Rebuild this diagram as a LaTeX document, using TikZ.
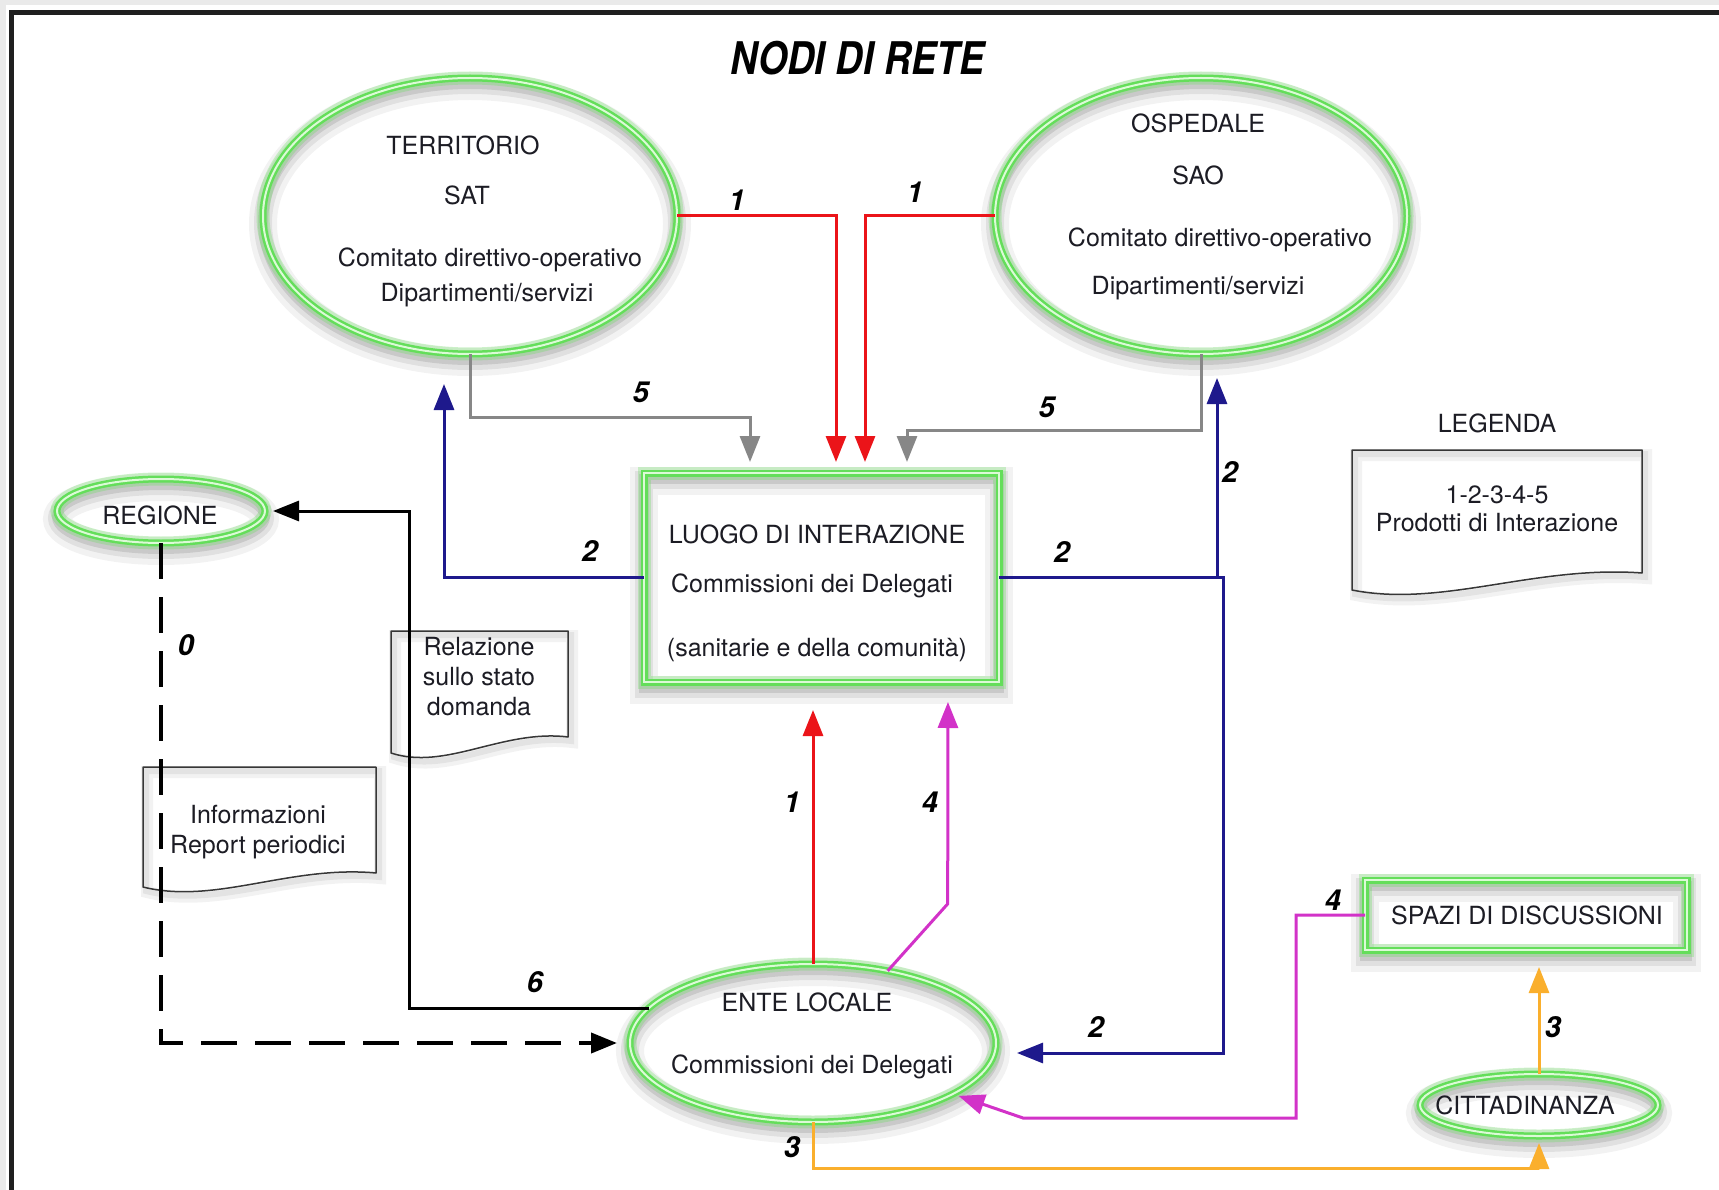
\documentclass[tikz,border=0pt]{standalone}
\usepackage{fontspec}
\setmainfont{TeX Gyre Heros}
\usetikzlibrary{arrows.meta,calc,shapes.geometric}

\definecolor{gline}{RGB}{100,222,90}
\definecolor{gpale}{RGB}{220,250,215}
\definecolor{cred}{RGB}{235,20,25}
\definecolor{cnavy}{RGB}{30,25,140}
\definecolor{cgray}{RGB}{135,135,135}
\definecolor{cmag}{RGB}{210,50,200}
\definecolor{corange}{RGB}{250,175,45}
\definecolor{ink}{RGB}{28,28,36}
\definecolor{docedge}{RGB}{55,55,55}
\definecolor{bandgray}{RGB}{234,234,234}

% document symbol: x0, top, x1, bottom-left, bottom-right
\newcommand\docoutline[5]{%
  \draw[docline] (#1,#4) -- (#1,#2) -- (#3,#2) -- (#3,#5)
    .. controls ({#1+0.63*(#3-#1)},{#5-8}) and ({#1+0.31*(#3-#1)},{#4+18}) .. (#1,#4) -- cycle;}

\begin{document}
\begin{tikzpicture}[x=1pt,y=-1pt,
  every node/.style={font=\fontsize{25}{30}\selectfont, text=ink, inner sep=0pt, outer sep=0pt},
  num/.style={font=\fontsize{29}{30}\selectfont\bfseries\itshape, text=black},
  greenring/.style={draw=gline, line width=7pt,
    preaction={draw=black, draw opacity=0.05, line width=28pt, transform canvas={yshift=-8pt}},
    preaction={draw=black, draw opacity=0.07, line width=18pt, transform canvas={yshift=-7pt}},
    preaction={draw=black, draw opacity=0.10, line width=10pt, transform canvas={yshift=-6pt}},
    preaction={draw=gline, draw opacity=0.3, line width=13pt},
    postaction={draw=gpale, line width=2pt}},
  oval/.style={ellipse, greenring},
  greenbox/.style={rectangle, greenring},
  conn/.style={line width=3pt, -{Triangle[width=20pt,length=26pt]}},
  docline/.style={draw=docedge, line width=1.5pt, line join=round,
    preaction={draw=black, draw opacity=0.05, line width=12pt, transform canvas={shift={(4pt,-5pt)}}},
    preaction={draw=black, draw opacity=0.06, line width=6pt, transform canvas={shift={(3pt,-4pt)}}}},
]
\useasboundingbox (0,0) rectangle (1719,1190);

% page frame
\fill[bandgray] (0,0) rectangle (1719,1190);
\fill[white] (6,5) rectangle (1719,1190);
\draw[line width=4.5pt, black!88, line join=miter] (11.5,1190) -- (11.5,12.5) -- (1719,12.5);

% title
\node[font=\fontsize{45}{45}\selectfont\bfseries\itshape, text=black] (title) at (858,58)
  {\scalebox{0.84}[1]{NODI DI RETE}};

% documents
\docoutline{391}{631}{568}{753}{737}
\node[align=center] (rel) at (479,677) {Relazione\\sullo stato\\domanda};
\docoutline{143}{767}{376}{887}{873}
\node[align=center] (info) at (258,832) {Informazioni\\Report periodici};
\node (legend) at (1497,423) {LEGENDA};
\docoutline{1352}{450}{1642}{590}{573}
\node[align=center, font=\fontsize{25}{28}\selectfont] (legtext) at (1497,509) {1-2-3-4-5\\Prodotti di Interazione};

% network nodes
\node[oval, minimum width=414, minimum height=276] (terr) at (470,216) {};
\node (terrA) at (463,145) {TERRITORIO};
\node (terrB) at (467,195) {SAT};
\node (terrC) at (490,260) {Comitato direttivo-operativo};
\node (terrD) at (487,295) {Dipartimenti/servizi};

\node[oval, minimum width=412, minimum height=276] (osp) at (1201,216) {};
\node (ospA) at (1198,123) {OSPEDALE};
\node (ospB) at (1198,175) {SAO};
\node (ospC) at (1220,240) {Comitato direttivo-operativo};
\node (ospD) at (1198,288) {Dipartimenti/servizi};

\node[greenbox, minimum width=355, minimum height=209] (luogo) at (821.5,577.5) {};
\node (luogoA) at (817,534) {LUOGO DI INTERAZIONE};
\node (luogoB) at (812,586) {Commissioni dei Delegati};
\node (luogoC) at (817,650) {(sanitarie e della comunità)};

\node[oval, minimum width=208, minimum height=64] (reg) at (161,511) {};
\node (regT) at (160,515) {REGIONE};

\node[oval, minimum width=366, minimum height=158] (ente) at (813,1043) {};
\node (enteA) at (807,1002) {ENTE LOCALE};
\node (enteB) at (812,1067) {Commissioni dei Delegati};

\node[greenbox, minimum width=322, minimum height=70] (spazi) at (1526,915) {};
\node (spaziT) at (1527,915) {SPAZI DI DISCUSSIONI};

\node[oval, minimum width=238, minimum height=62] (citt) at (1539,1105) {};
\node (cittT) at (1525,1105) {CITTADINANZA};

% connectors
\draw[conn, cred, shorten >=11pt] (terr.east) -| ($(luogo.north)+(14.5,0)$);
\draw[conn, cred, shorten >=11pt] (osp.west) -| ($(luogo.north)+(43.5,0)$);
\draw[conn, cgray, shorten >=11pt] (terr.south) -- ++(0,63) -| ($(luogo.north)+(-71.5,0)$);
\draw[conn, cgray, shorten >=11pt] (osp.south) -- ++(0,76) -| ($(luogo.north)+(85.5,0)$);
\draw[conn, cnavy, shorten >=30pt] (luogo.west) -| ($(terr.south)+(-26,0)$);
\draw[conn, cnavy, shorten >=24pt] (luogo.east) -| ($(osp.south)+(16,0)$);
\draw[conn, cnavy, shorten >=21pt] (luogo.east) -- ++(224,0) |- ($(ente.east)+(0,10)$);
\draw[conn, cred, shorten >=28pt] (ente.north) -- ($(luogo.south)+(-8.5,0)$);
\draw[conn, cmag, shorten >=20pt] (ente.44) -- ++(60,-67) -- ($(luogo.south)+(126.5,0)$);
\draw[conn, cmag, shorten >=6pt] (spazi.west) -- ++(-69,0) -- ++(0,203) -- ++(-273,0) -- (ente.-20);
\draw[conn, corange, shorten >=7pt] (ente.south) -- ++(0,46) -| (citt.south);
\draw[conn, corange, shorten >=17pt] (citt.north) -- (citt.north |- spazi.south);
\draw[conn, black, shorten >=8pt] (ente.168) -| ($(reg.east)+(144,0)$) -- (reg.east);
\draw[conn, black, line width=4pt, dash pattern=on 36pt off 18pt, shorten >=13pt] (reg.south) |- (ente.west);

% connector labels
\node[num] (l1a) at (737,200) {1};
\node[num] (l1b) at (915,192) {1};
\node[num] (l5a) at (641,392) {5};
\node[num] (l5b) at (1047,407) {5};
\node[num] (l2a) at (590,551) {2};
\node[num] (l2b) at (1062,552) {2};
\node[num] (l2c) at (1230,472) {2};
\node[num] (l2d) at (1096,1027) {2};
\node[num] (l0) at (186,645) {0};
\node[num] (l6) at (535,982) {6};
\node[num] (l1c) at (792,802) {1};
\node[num] (l4a) at (930,802) {4};
\node[num] (l4b) at (1333,900) {4};
\node[num] (l3a) at (1553,1027) {3};
\node[num] (l3b) at (792,1147) {3};
\end{tikzpicture}
\end{document}
